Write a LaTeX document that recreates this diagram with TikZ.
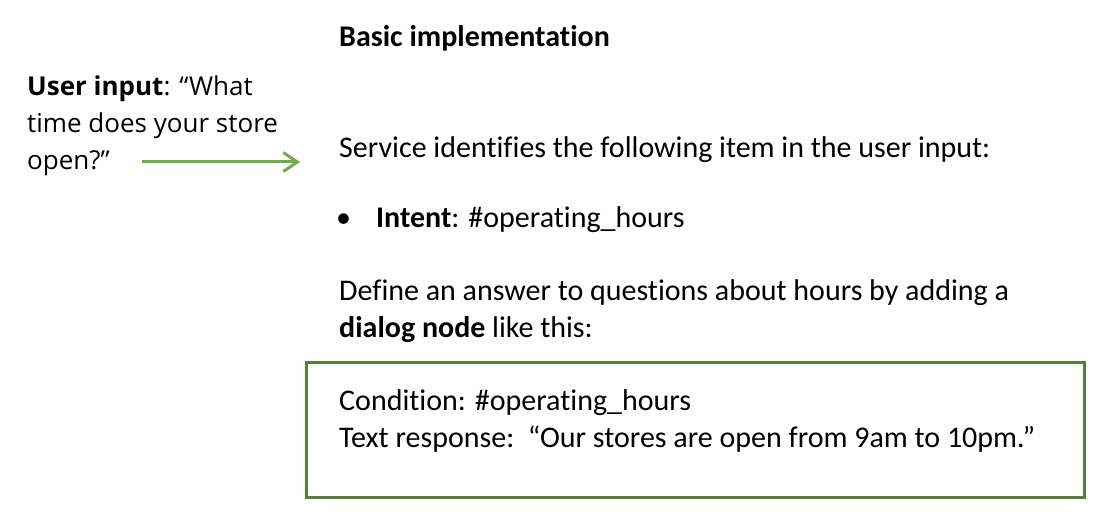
\documentclass[tikz,border=0pt]{standalone}
\usepackage{fontspec}
\setmainfont{Carlito}[Ligatures={NoCommon}]
\newfontfamily\leftfont{Open Sans}
\usepackage{xcolor}
\usetikzlibrary{arrows.meta,positioning}
\definecolor{arrowgreen}{RGB}{112,173,71}
\definecolor{boxgreen}{RGB}{84,130,53}

\begin{document}
\begin{tikzpicture}[x=1pt,y=-1pt,>={Straight Barb[length=14pt,width=19pt]}]
  \tikzstyle{txt}=[anchor=base west,inner sep=0pt,align=left,font=\fontsize{30}{37}\selectfont]
  \tikzstyle{usertxt}=[anchor=base west,inner sep=0pt,align=left,font=\leftfont\fontsize{26}{37}\selectfont]
  \useasboundingbox (0,0) rectangle (1111,526);
  \node[txt] (title) at (339,47) {\textbf{Basic implementation}};
  \node[usertxt] (user) at (27,170) {\textbf{User input}: “What\\time does your store\\open?”};
  \node[txt] (service) at (339,158) {Service identifies the following item in the user input:};
  \node[txt] (bullet) at (336,228) {•};
  \node[txt] (intent) at (376,228) {\textbf{Intent}: \#operating\_hours};
  \node[txt] (define) at (339,338) {Define an answer to questions about hours by adding a\\\textbf{dialog node} like this:};
  \draw[boxgreen,line width=3pt] (306,363) rectangle (1084,497);
  \node[txt] (cond) at (339,447) {Condition: \#operating\_hours\\Text response:\ \ “Our stores are open from 9am to 10pm.”};
  \coordinate (arrstart) at (142,162);
  \coordinate (arrend) at (300,162);
  \draw[->,arrowgreen,line width=3pt] (arrstart) -- (arrend);
\end{tikzpicture}
\end{document}
